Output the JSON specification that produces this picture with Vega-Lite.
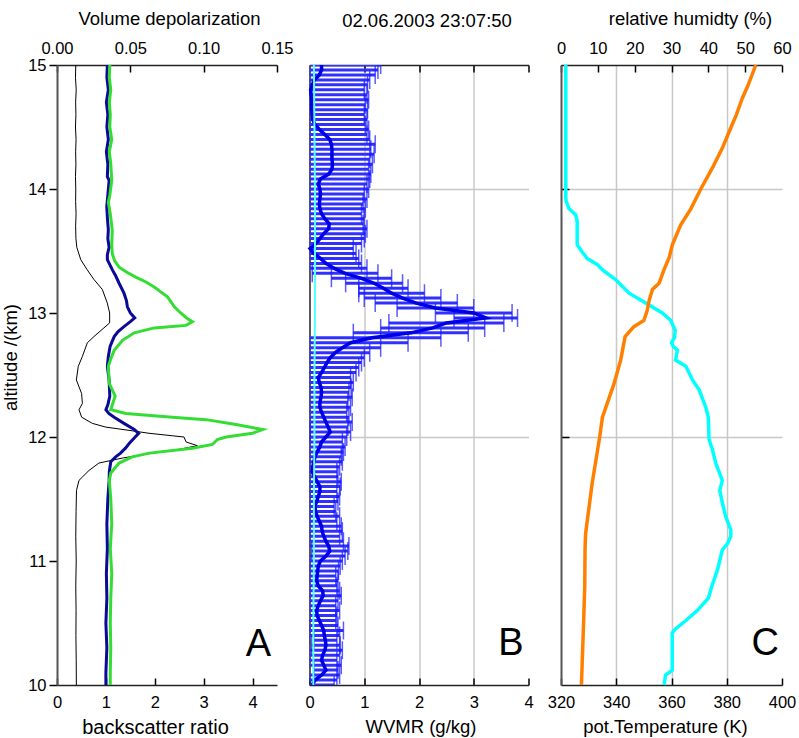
{
"$schema": "https://vega.github.io/schema/vega-lite/v6.json",
"background": "white",
"padding": {"left": 1, "top": 9, "right": 5, "bottom": 3},
"spacing": 32.5,
"bounds": "flush",
"resolve": {"scale": {"x": "independent", "y": "independent"}},
"config": {
  "font": "Liberation Sans",
  "view": {"stroke": null},
  "axis": {"labelFont": "Liberation Sans", "labelFontSize": 16.5, "labelColor": "#000000", "labelFlush": false, "titleFont": "Liberation Sans", "titleFontSize": 18.5, "titleFontWeight": "normal", "titleColor": "#000000", "domainColor": "#222222", "domainWidth": 1.5, "tickColor": "#000000", "tickWidth": 1.5, "grid": false, "gridColor": "#c8c8c8", "gridWidth": 1.5},
  "title": {"font": "Liberation Sans", "fontSize": 18.5, "fontWeight": "normal", "color": "#000000"}
},
"datasets": {
  "depol": [
    {"a": 15.0, "d": 0.0128}, {"a": 14.9, "d": 0.0126}, {"a": 14.8, "d": 0.0131}, {"a": 14.7, "d": 0.0127}, {"a": 14.6, "d": 0.0129}, {"a": 14.5, "d": 0.0126}, {"a": 14.4, "d": 0.0130}, {"a": 14.3, "d": 0.0127}, {"a": 14.2, "d": 0.0129}, {"a": 14.1, "d": 0.0126}, {"a": 14.0, "d": 0.0128}, {"a": 13.9, "d": 0.0127}, {"a": 13.8, "d": 0.0130}, {"a": 13.7, "d": 0.0127}, {"a": 13.6, "d": 0.0129}, {"a": 13.53, "d": 0.0135}, {"a": 13.43, "d": 0.0162}, {"a": 13.35, "d": 0.0205}, {"a": 13.27, "d": 0.0252}, {"a": 13.19, "d": 0.0309}, {"a": 13.08, "d": 0.0343}, {"a": 13.0, "d": 0.0359}, {"a": 12.92, "d": 0.0359}, {"a": 12.88, "d": 0.0320}, {"a": 12.81, "d": 0.0252}, {"a": 12.76, "d": 0.0207}, {"a": 12.65, "d": 0.0173}, {"a": 12.57, "d": 0.0145}, {"a": 12.46, "d": 0.0132}, {"a": 12.35, "d": 0.0168}, {"a": 12.27, "d": 0.0173}, {"a": 12.22, "d": 0.0150}, {"a": 12.16, "d": 0.0168}, {"a": 12.11, "d": 0.0241}, {"a": 12.08, "d": 0.0332}, {"a": 12.05, "d": 0.0513}, {"a": 12.03, "d": 0.0627}, {"a": 12.01, "d": 0.0786}, {"a": 12.0, "d": 0.0866}, {"a": 11.96, "d": 0.0880}, {"a": 11.93, "d": 0.0957}, {"a": 11.9, "d": 0.0832}, {"a": 11.87, "d": 0.0650}, {"a": 11.83, "d": 0.0445}, {"a": 11.79, "d": 0.0286}, {"a": 11.73, "d": 0.0218}, {"a": 11.65, "d": 0.0150}, {"a": 11.57, "d": 0.0133}, {"a": 11.4, "d": 0.0130}, {"a": 11.2, "d": 0.0128}, {"a": 11.0, "d": 0.0131}, {"a": 10.8, "d": 0.0128}, {"a": 10.6, "d": 0.0130}, {"a": 10.4, "d": 0.0129}, {"a": 10.2, "d": 0.0131}, {"a": 10.0, "d": 0.0132}
  ],
  "blue": [
    {"a": 15.0, "v": 1.03}, {"a": 14.9, "v": 1.02}, {"a": 14.8, "v": 1.05}, {"a": 14.7, "v": 1.01}, {"a": 14.6, "v": 1.04}, {"a": 14.5, "v": 1.02}, {"a": 14.4, "v": 1.05}, {"a": 14.3, "v": 1.01}, {"a": 14.2, "v": 1.04}, {"a": 14.1, "v": 1.03}, {"a": 14.07, "v": 1.066}, {"a": 13.95, "v": 1.04}, {"a": 13.86, "v": 1.018}, {"a": 13.77, "v": 1.03}, {"a": 13.67, "v": 1.05}, {"a": 13.6, "v": 1.04}, {"a": 13.53, "v": 1.066}, {"a": 13.47, "v": 1.03}, {"a": 13.43, "v": 1.03}, {"a": 13.39, "v": 1.08}, {"a": 13.35, "v": 1.13}, {"a": 13.3, "v": 1.2}, {"a": 13.24, "v": 1.27}, {"a": 13.16, "v": 1.37}, {"a": 13.1, "v": 1.42}, {"a": 13.05, "v": 1.44}, {"a": 13.0, "v": 1.5}, {"a": 12.96, "v": 1.59}, {"a": 12.93, "v": 1.5}, {"a": 12.89, "v": 1.37}, {"a": 12.85, "v": 1.25}, {"a": 12.81, "v": 1.17}, {"a": 12.73, "v": 1.086}, {"a": 12.65, "v": 1.05}, {"a": 12.57, "v": 1.03}, {"a": 12.46, "v": 1.066}, {"a": 12.33, "v": 1.08}, {"a": 12.26, "v": 1.04}, {"a": 12.22, "v": 1.0}, {"a": 12.19, "v": 1.06}, {"a": 12.16, "v": 1.17}, {"a": 12.11, "v": 1.37}, {"a": 12.06, "v": 1.58}, {"a": 12.03, "v": 1.67}, {"a": 12.0, "v": 1.6}, {"a": 11.95, "v": 1.48}, {"a": 11.91, "v": 1.4}, {"a": 11.87, "v": 1.3}, {"a": 11.84, "v": 1.2}, {"a": 11.8, "v": 1.1}, {"a": 11.72, "v": 1.07}, {"a": 11.65, "v": 1.066}, {"a": 11.5, "v": 1.04}, {"a": 11.3, "v": 1.02}, {"a": 11.1, "v": 1.03}, {"a": 10.9, "v": 1.01}, {"a": 10.7, "v": 1.02}, {"a": 10.5, "v": 1.0}, {"a": 10.3, "v": 1.02}, {"a": 10.1, "v": 1.0}, {"a": 10.0, "v": 1.0}
  ],
  "green": [
    {"a": 15.0, "v": 1.08}, {"a": 14.9, "v": 1.07}, {"a": 14.8, "v": 1.1}, {"a": 14.7, "v": 1.07}, {"a": 14.6, "v": 1.09}, {"a": 14.5, "v": 1.08}, {"a": 14.4, "v": 1.12}, {"a": 14.3, "v": 1.07}, {"a": 14.2, "v": 1.1}, {"a": 14.07, "v": 1.12}, {"a": 13.95, "v": 1.08}, {"a": 13.89, "v": 1.05}, {"a": 13.8, "v": 1.09}, {"a": 13.67, "v": 1.13}, {"a": 13.55, "v": 1.12}, {"a": 13.48, "v": 1.13}, {"a": 13.42, "v": 1.18}, {"a": 13.37, "v": 1.27}, {"a": 13.33, "v": 1.42}, {"a": 13.29, "v": 1.61}, {"a": 13.25, "v": 1.82}, {"a": 13.21, "v": 1.99}, {"a": 13.17, "v": 2.12}, {"a": 13.13, "v": 2.26}, {"a": 13.09, "v": 2.33}, {"a": 13.05, "v": 2.4}, {"a": 13.0, "v": 2.53}, {"a": 12.96, "v": 2.65}, {"a": 12.93, "v": 2.77}, {"a": 12.9, "v": 2.64}, {"a": 12.88, "v": 1.99}, {"a": 12.84, "v": 1.58}, {"a": 12.78, "v": 1.34}, {"a": 12.7, "v": 1.17}, {"a": 12.63, "v": 1.1}, {"a": 12.57, "v": 1.05}, {"a": 12.43, "v": 1.07}, {"a": 12.33, "v": 1.19}, {"a": 12.27, "v": 1.14}, {"a": 12.22, "v": 1.1}, {"a": 12.19, "v": 1.41}, {"a": 12.16, "v": 2.36}, {"a": 12.14, "v": 3.05}, {"a": 12.1, "v": 3.66}, {"a": 12.06, "v": 4.21}, {"a": 12.03, "v": 4.0}, {"a": 12.0, "v": 3.46}, {"a": 11.98, "v": 3.28}, {"a": 11.94, "v": 3.18}, {"a": 11.91, "v": 2.77}, {"a": 11.87, "v": 1.89}, {"a": 11.84, "v": 1.54}, {"a": 11.79, "v": 1.27}, {"a": 11.71, "v": 1.1}, {"a": 11.65, "v": 1.07}, {"a": 11.5, "v": 1.1}, {"a": 11.3, "v": 1.12}, {"a": 11.1, "v": 1.09}, {"a": 10.9, "v": 1.12}, {"a": 10.7, "v": 1.1}, {"a": 10.5, "v": 1.09}, {"a": 10.3, "v": 1.1}, {"a": 10.1, "v": 1.09}, {"a": 10.0, "v": 1.09}
  ],
  "wv": [
    {"a": 10.00, "w": 0.05, "lo": -0.35, "hi": 0.45}, {"a": 10.04, "w": 0.10, "lo": -0.30, "hi": 0.50}, {"a": 10.08, "w": 0.22, "lo": -0.11, "hi": 0.55}, {"a": 10.12, "w": 0.30, "lo": 0.08, "hi": 0.52}, {"a": 10.16, "w": 0.26, "lo": -0.06, "hi": 0.58}, {"a": 10.20, "w": 0.22, "lo": -0.06, "hi": 0.50}, {"a": 10.24, "w": 0.24, "lo": -0.07, "hi": 0.55}, {"a": 10.28, "w": 0.28, "lo": -0.04, "hi": 0.60}, {"a": 10.32, "w": 0.30, "lo": 0.04, "hi": 0.56}, {"a": 10.36, "w": 0.29, "lo": 0.08, "hi": 0.50}, {"a": 10.40, "w": 0.27, "lo": -0.01, "hi": 0.55}, {"a": 10.44, "w": 0.26, "lo": -0.10, "hi": 0.62}, {"a": 10.48, "w": 0.22, "lo": -0.08, "hi": 0.52}, {"a": 10.52, "w": 0.18, "lo": -0.12, "hi": 0.48}, {"a": 10.56, "w": 0.14, "lo": -0.22, "hi": 0.50}, {"a": 10.60, "w": 0.13, "lo": -0.29, "hi": 0.55}, {"a": 10.64, "w": 0.16, "lo": -0.16, "hi": 0.48}, {"a": 10.68, "w": 0.20, "lo": -0.12, "hi": 0.52}, {"a": 10.72, "w": 0.25, "lo": -0.08, "hi": 0.58}, {"a": 10.76, "w": 0.24, "lo": -0.07, "hi": 0.55}, {"a": 10.80, "w": 0.16, "lo": -0.18, "hi": 0.50}, {"a": 10.84, "w": 0.13, "lo": -0.26, "hi": 0.52}, {"a": 10.88, "w": 0.14, "lo": -0.20, "hi": 0.48}, {"a": 10.92, "w": 0.15, "lo": -0.23, "hi": 0.53}, {"a": 10.96, "w": 0.16, "lo": -0.24, "hi": 0.56}, {"a": 11.00, "w": 0.20, "lo": -0.20, "hi": 0.60}, {"a": 11.04, "w": 0.30, "lo": -0.05, "hi": 0.65}, {"a": 11.08, "w": 0.37, "lo": 0.04, "hi": 0.70}, {"a": 11.12, "w": 0.35, "lo": -0.02, "hi": 0.72}, {"a": 11.16, "w": 0.30, "lo": -0.02, "hi": 0.62}, {"a": 11.20, "w": 0.26, "lo": -0.03, "hi": 0.55}, {"a": 11.24, "w": 0.23, "lo": -0.14, "hi": 0.60}, {"a": 11.28, "w": 0.22, "lo": -0.14, "hi": 0.58}, {"a": 11.32, "w": 0.18, "lo": -0.14, "hi": 0.50}, {"a": 11.36, "w": 0.14, "lo": -0.27, "hi": 0.55}, {"a": 11.40, "w": 0.11, "lo": -0.26, "hi": 0.48}, {"a": 11.44, "w": 0.10, "lo": -0.25, "hi": 0.45}, {"a": 11.48, "w": 0.13, "lo": -0.26, "hi": 0.52}, {"a": 11.52, "w": 0.16, "lo": -0.23, "hi": 0.55}, {"a": 11.56, "w": 0.19, "lo": -0.12, "hi": 0.50}, {"a": 11.60, "w": 0.19, "lo": -0.18, "hi": 0.56}, {"a": 11.64, "w": 0.14, "lo": -0.30, "hi": 0.58}, {"a": 11.68, "w": 0.09, "lo": -0.34, "hi": 0.52}, {"a": 11.72, "w": 0.05, "lo": -0.40, "hi": 0.50}, {"a": 11.76, "w": 0.06, "lo": -0.43, "hi": 0.55}, {"a": 11.80, "w": 0.08, "lo": -0.44, "hi": 0.60}, {"a": 11.84, "w": 0.10, "lo": -0.38, "hi": 0.58}, {"a": 11.88, "w": 0.14, "lo": -0.34, "hi": 0.62}, {"a": 11.92, "w": 0.19, "lo": -0.27, "hi": 0.65}, {"a": 11.96, "w": 0.22, "lo": -0.16, "hi": 0.60}, {"a": 12.00, "w": 0.30, "lo": -0.08, "hi": 0.68}, {"a": 12.04, "w": 0.38, "lo": 0.01, "hi": 0.75}, {"a": 12.08, "w": 0.34, "lo": -0.02, "hi": 0.70}, {"a": 12.12, "w": 0.30, "lo": -0.18, "hi": 0.78}, {"a": 12.16, "w": 0.26, "lo": -0.20, "hi": 0.72}, {"a": 12.20, "w": 0.22, "lo": -0.24, "hi": 0.68}, {"a": 12.24, "w": 0.19, "lo": -0.37, "hi": 0.75}, {"a": 12.28, "w": 0.19, "lo": -0.32, "hi": 0.70}, {"a": 12.32, "w": 0.21, "lo": -0.36, "hi": 0.78}, {"a": 12.36, "w": 0.22, "lo": -0.28, "hi": 0.72}, {"a": 12.40, "w": 0.21, "lo": -0.34, "hi": 0.76}, {"a": 12.44, "w": 0.18, "lo": -0.44, "hi": 0.80}, {"a": 12.48, "w": 0.16, "lo": -0.43, "hi": 0.75}, {"a": 12.52, "w": 0.22, "lo": -0.41, "hi": 0.85}, {"a": 12.56, "w": 0.27, "lo": -0.36, "hi": 0.90}, {"a": 12.60, "w": 0.32, "lo": -0.31, "hi": 0.95}, {"a": 12.64, "w": 0.38, "lo": -0.24, "hi": 1.00}, {"a": 12.68, "w": 0.47, "lo": -0.16, "hi": 1.10}, {"a": 12.72, "w": 0.60, "lo": -0.10, "hi": 1.30}, {"a": 12.76, "w": 0.75, "lo": -0.30, "hi": 1.80}, {"a": 12.80, "w": 1.14, "lo": -0.12, "hi": 2.40}, {"a": 12.84, "w": 1.85, "lo": 0.80, "hi": 2.90}, {"a": 12.88, "w": 2.25, "lo": 1.30, "hi": 3.20}, {"a": 12.92, "w": 2.50, "lo": 1.45, "hi": 3.55}, {"a": 12.96, "w": 3.22, "lo": 2.64, "hi": 3.80}, {"a": 13.00, "w": 3.00, "lo": 2.30, "hi": 3.70}, {"a": 13.04, "w": 2.30, "lo": 1.60, "hi": 3.00}, {"a": 13.08, "w": 1.95, "lo": 1.20, "hi": 2.70}, {"a": 13.12, "w": 1.70, "lo": 1.00, "hi": 2.40}, {"a": 13.16, "w": 1.50, "lo": 0.90, "hi": 2.10}, {"a": 13.20, "w": 1.35, "lo": 0.90, "hi": 1.80}, {"a": 13.24, "w": 1.18, "lo": 0.66, "hi": 1.70}, {"a": 13.28, "w": 0.95, "lo": 0.40, "hi": 1.50}, {"a": 13.32, "w": 0.65, "lo": 0.05, "hi": 1.25}, {"a": 13.36, "w": 0.45, "lo": -0.15, "hi": 1.05}, {"a": 13.40, "w": 0.30, "lo": -0.35, "hi": 0.95}, {"a": 13.44, "w": 0.20, "lo": -0.50, "hi": 0.90}, {"a": 13.48, "w": 0.08, "lo": -0.69, "hi": 0.85}, {"a": 13.52, "w": 0.01, "lo": -0.78, "hi": 0.80}, {"a": 13.56, "w": 0.12, "lo": -0.71, "hi": 0.95}, {"a": 13.60, "w": 0.19, "lo": -0.62, "hi": 1.00}, {"a": 13.64, "w": 0.26, "lo": -0.50, "hi": 1.02}, {"a": 13.68, "w": 0.35, "lo": -0.35, "hi": 1.05}, {"a": 13.72, "w": 0.36, "lo": -0.26, "hi": 0.98}, {"a": 13.76, "w": 0.28, "lo": -0.44, "hi": 1.00}, {"a": 13.80, "w": 0.22, "lo": -0.51, "hi": 0.95}, {"a": 13.84, "w": 0.19, "lo": -0.64, "hi": 1.02}, {"a": 13.88, "w": 0.18, "lo": -0.62, "hi": 0.98}, {"a": 13.92, "w": 0.19, "lo": -0.67, "hi": 1.05}, {"a": 13.96, "w": 0.20, "lo": -0.60, "hi": 1.00}, {"a": 14.00, "w": 0.19, "lo": -0.70, "hi": 1.08}, {"a": 14.04, "w": 0.16, "lo": -0.73, "hi": 1.05}, {"a": 14.08, "w": 0.20, "lo": -0.70, "hi": 1.10}, {"a": 14.12, "w": 0.35, "lo": -0.42, "hi": 1.12}, {"a": 14.16, "w": 0.41, "lo": -0.26, "hi": 1.08}, {"a": 14.20, "w": 0.42, "lo": -0.31, "hi": 1.15}, {"a": 14.24, "w": 0.41, "lo": -0.28, "hi": 1.10}, {"a": 14.28, "w": 0.41, "lo": -0.36, "hi": 1.18}, {"a": 14.32, "w": 0.41, "lo": -0.30, "hi": 1.12}, {"a": 14.36, "w": 0.40, "lo": -0.40, "hi": 1.20}, {"a": 14.40, "w": 0.37, "lo": -0.36, "hi": 1.10}, {"a": 14.44, "w": 0.28, "lo": -0.49, "hi": 1.05}, {"a": 14.48, "w": 0.18, "lo": -0.72, "hi": 1.08}, {"a": 14.52, "w": 0.10, "lo": -0.82, "hi": 1.02}, {"a": 14.56, "w": 0.06, "lo": -0.93, "hi": 1.05}, {"a": 14.60, "w": 0.05, "lo": -0.90, "hi": 1.00}, {"a": 14.64, "w": 0.04, "lo": -0.98, "hi": 1.06}, {"a": 14.68, "w": 0.04, "lo": -0.94, "hi": 1.02}, {"a": 14.72, "w": 0.04, "lo": -1.00, "hi": 1.08}, {"a": 14.76, "w": 0.03, "lo": -0.99, "hi": 1.05}, {"a": 14.80, "w": 0.02, "lo": -0.96, "hi": 1.00}, {"a": 14.84, "w": 0.05, "lo": -0.96, "hi": 1.06}, {"a": 14.88, "w": 0.09, "lo": -0.92, "hi": 1.10}, {"a": 14.92, "w": 0.18, "lo": -0.84, "hi": 1.20}, {"a": 14.96, "w": 0.22, "lo": -0.81, "hi": 1.25}, {"a": 15.00, "w": 0.22, "lo": -0.86, "hi": 1.30}
  ],
  "cyb": [
    {"a": 15.0, "c": 0.08}, {"a": 14.5, "c": 0.09}, {"a": 14.0, "c": 0.10}, {"a": 13.5, "c": 0.10}, {"a": 13.0, "c": 0.10}, {"a": 12.5, "c": 0.09}, {"a": 12.0, "c": 0.09}, {"a": 11.5, "c": 0.08}, {"a": 11.0, "c": 0.08}, {"a": 10.5, "c": 0.07}, {"a": 10.0, "c": 0.07}
  ],
  "temp": [
    {"a": 15.0, "t": 390.5}, {"a": 14.83, "t": 387.6}, {"a": 14.73, "t": 385.6}, {"a": 14.6, "t": 383.5}, {"a": 14.49, "t": 381.4}, {"a": 14.33, "t": 378.4}, {"a": 14.17, "t": 374.8}, {"a": 14.0, "t": 370.6}, {"a": 13.84, "t": 367.0}, {"a": 13.71, "t": 363.3}, {"a": 13.55, "t": 360.3}, {"a": 13.45, "t": 359.2}, {"a": 13.35, "t": 357.3}, {"a": 13.24, "t": 355.5}, {"a": 13.19, "t": 353.1}, {"a": 13.1, "t": 351.9}, {"a": 13.02, "t": 351.2}, {"a": 12.94, "t": 350.0}, {"a": 12.89, "t": 346.4}, {"a": 12.81, "t": 343.2}, {"a": 12.62, "t": 341.6}, {"a": 12.43, "t": 339.2}, {"a": 12.16, "t": 335.0}, {"a": 12.0, "t": 334.0}, {"a": 11.63, "t": 331.3}, {"a": 11.22, "t": 328.9}, {"a": 11.09, "t": 328.7}, {"a": 10.8, "t": 328.6}, {"a": 10.52, "t": 328.2}, {"a": 10.0, "t": 327.4}
  ],
  "rh": [
    {"a": 15.0, "r": 1.3}, {"a": 14.5, "r": 1.3}, {"a": 14.0, "r": 1.3}, {"a": 13.93, "r": 1.3}, {"a": 13.9, "r": 1.4}, {"a": 13.84, "r": 2.2}, {"a": 13.79, "r": 4.0}, {"a": 13.74, "r": 4.4}, {"a": 13.55, "r": 4.4}, {"a": 13.49, "r": 5.8}, {"a": 13.44, "r": 7.1}, {"a": 13.39, "r": 9.9}, {"a": 13.35, "r": 11.2}, {"a": 13.27, "r": 14.8}, {"a": 13.16, "r": 18.5}, {"a": 13.08, "r": 23.0}, {"a": 13.0, "r": 27.5}, {"a": 12.94, "r": 29.8}, {"a": 12.86, "r": 31.0}, {"a": 12.8, "r": 30.8}, {"a": 12.76, "r": 30.0}, {"a": 12.73, "r": 30.5}, {"a": 12.7, "r": 31.6}, {"a": 12.62, "r": 31.1}, {"a": 12.57, "r": 33.9}, {"a": 12.46, "r": 35.7}, {"a": 12.38, "r": 37.5}, {"a": 12.24, "r": 39.3}, {"a": 12.16, "r": 40.0}, {"a": 11.98, "r": 40.2}, {"a": 11.9, "r": 41.1}, {"a": 11.79, "r": 42.0}, {"a": 11.65, "r": 43.8}, {"a": 11.57, "r": 43.1}, {"a": 11.47, "r": 43.8}, {"a": 11.36, "r": 44.7}, {"a": 11.25, "r": 46.1}, {"a": 11.2, "r": 46.1}, {"a": 11.14, "r": 45.2}, {"a": 11.09, "r": 43.8}, {"a": 10.93, "r": 42.5}, {"a": 10.8, "r": 41.0}, {"a": 10.7, "r": 40.0}, {"a": 10.6, "r": 37.0}, {"a": 10.52, "r": 33.9}, {"a": 10.45, "r": 31.0}, {"a": 10.42, "r": 30.2}, {"a": 10.12, "r": 30.2}, {"a": 10.08, "r": 28.4}, {"a": 10.0, "r": 28.0}
  ]
},
"hconcat": [
  {
    "width": 220, "height": 620,
    "layer": [
      {
        "data": {"name": "depol"},
        "mark": {"type": "line", "color": "#000000", "strokeWidth": 1},
        "encoding": {
          "x": {"field": "d", "type": "quantitative", "scale": {"domain": [0, 0.15], "nice": false, "zero": false}, "axis": {"orient": "top", "values": [0, 0.05, 0.1, 0.15], "format": ".2f", "title": "Volume depolarization", "tickSize": -7, "labelPadding": 16, "titlePadding": 12, "titleX": 112}},
          "y": {"field": "a", "type": "quantitative", "scale": {"domain": [10, 15], "nice": false, "zero": false}, "axis": {"values": [10, 11, 12, 13, 14, 15], "title": "altitude /(km)", "tickSize": 8, "labelPadding": 3, "titlePadding": 7, "titleY": 292, "domainColor": "#555555", "domainWidth": 2}},
          "order": {"field": "a", "type": "quantitative"}
        }
      },
      {
        "layer": [
          {
            "data": {"name": "blue"},
            "mark": {"type": "line", "color": "#0a0a96", "strokeWidth": 3},
            "encoding": {
              "x": {"field": "v", "type": "quantitative", "scale": {"domain": [0, 4.5], "nice": false, "zero": false}, "axis": {"orient": "bottom", "values": [0, 1, 2, 3, 4], "title": "backscatter ratio", "titleFontSize": 20, "tickSize": -7, "labelPadding": 16, "titlePadding": 7, "titleX": 98}},
              "y": {"field": "a", "type": "quantitative", "scale": {"domain": [10, 15], "nice": false, "zero": false}, "axis": {"values": [10, 11, 12, 13, 14, 15], "title": "altitude /(km)", "tickSize": 8, "labelPadding": 3, "titlePadding": 7, "titleY": 292, "domainColor": "#555555", "domainWidth": 2}},
              "order": {"field": "a", "type": "quantitative"}
            }
          },
          {
            "data": {"name": "green"},
            "mark": {"type": "line", "color": "#33dd33", "strokeWidth": 3},
            "encoding": {
              "x": {"field": "v", "type": "quantitative", "scale": {"domain": [0, 4.5], "nice": false, "zero": false}, "axis": {"orient": "bottom", "values": [0, 1, 2, 3, 4], "title": "backscatter ratio", "titleFontSize": 20, "tickSize": -7, "labelPadding": 16, "titlePadding": 7, "titleX": 98}},
              "y": {"field": "a", "type": "quantitative", "scale": {"domain": [10, 15], "nice": false, "zero": false}, "axis": {"values": [10, 11, 12, 13, 14, 15], "title": "altitude /(km)", "tickSize": 8, "labelPadding": 3, "titlePadding": 7, "titleY": 292, "domainColor": "#555555", "domainWidth": 2}},
              "order": {"field": "a", "type": "quantitative"}
            }
          },
          {
            "data": {"values": [{"lab": "A"}]},
            "mark": {"type": "text", "fontSize": 38, "align": "right", "baseline": "alphabetic", "color": "#000000"},
            "encoding": {
              "x": {"datum": 4.38, "type": "quantitative", "scale": {"domain": [0, 4.5], "nice": false, "zero": false}, "axis": {"orient": "bottom", "values": [0, 1, 2, 3, 4], "title": "backscatter ratio", "titleFontSize": 20, "tickSize": -7, "labelPadding": 16, "titlePadding": 7, "titleX": 98}},
              "y": {"datum": 10.23, "type": "quantitative", "scale": {"domain": [10, 15], "nice": false, "zero": false}, "axis": {"values": [10, 11, 12, 13, 14, 15], "title": "altitude /(km)", "tickSize": 8, "labelPadding": 3, "titlePadding": 7, "titleY": 292, "domainColor": "#555555", "domainWidth": 2}},
              "text": {"field": "lab"}
            }
          }
        ]
      }
    ],
    "resolve": {"scale": {"x": "independent"}}
  },
  {
    "width": 219, "height": 620,
    "title": {"text": "02.06.2003 23:07:50", "offset": 28, "dx": 8, "anchor": "middle", "font": "Liberation Sans", "fontSize": 18.5, "fontWeight": "normal", "color": "#000000"},
    "layer": [
      {
        "layer": [
          {
            "data": {"name": "wv"},
            "mark": {"type": "rule", "color": "#3030ff", "strokeWidth": 3, "clip": true},
            "encoding": {
              "x": {"field": "lo", "type": "quantitative", "scale": {"domain": [0, 4], "nice": false, "zero": false}, "axis": {"orient": "bottom", "values": [0, 1, 2, 3, 4], "title": "WVMR (g/kg)", "tickSize": -7, "labelPadding": 16, "titlePadding": 7, "titleX": 111, "grid": true, "gridOpacity": {"condition": {"test": "datum.value === 0 || datum.value === 4", "value": 0}, "value": 1}}},
              "x2": {"field": "hi"},
              "y": {"field": "a", "type": "quantitative", "scale": {"domain": [10, 15], "nice": false, "zero": false}, "axis": {"values": [12, 14], "labels": false, "title": null, "tickSize": -8, "grid": true}}
            }
          },
          {
            "data": {"name": "wv"},
            "mark": {"type": "tick", "orient": "vertical", "color": "#1515ff", "thickness": 1.5, "size": 18, "clip": true},
            "encoding": {
              "x": {"field": "hi", "type": "quantitative", "scale": {"domain": [0, 4], "nice": false, "zero": false}, "axis": {"orient": "bottom", "values": [0, 1, 2, 3, 4], "title": "WVMR (g/kg)", "tickSize": -7, "labelPadding": 16, "titlePadding": 7, "titleX": 111, "grid": true, "gridOpacity": {"condition": {"test": "datum.value === 0 || datum.value === 4", "value": 0}, "value": 1}}},
              "y": {"field": "a", "type": "quantitative", "scale": {"domain": [10, 15], "nice": false, "zero": false}, "axis": {"values": [12, 14], "labels": false, "title": null, "tickSize": -8, "grid": true}}
            }
          },
          {
            "data": {"name": "wv"},
            "mark": {"type": "tick", "orient": "vertical", "color": "#1515ff", "thickness": 1.5, "size": 18, "clip": true},
            "encoding": {
              "x": {"field": "lo", "type": "quantitative", "scale": {"domain": [0, 4], "nice": false, "zero": false}, "axis": {"orient": "bottom", "values": [0, 1, 2, 3, 4], "title": "WVMR (g/kg)", "tickSize": -7, "labelPadding": 16, "titlePadding": 7, "titleX": 111, "grid": true, "gridOpacity": {"condition": {"test": "datum.value === 0 || datum.value === 4", "value": 0}, "value": 1}}},
              "y": {"field": "a", "type": "quantitative", "scale": {"domain": [10, 15], "nice": false, "zero": false}, "axis": {"values": [12, 14], "labels": false, "title": null, "tickSize": -8, "grid": true}}
            }
          },
          {
            "data": {"name": "wv"},
            "mark": {"type": "line", "color": "#0000e6", "strokeWidth": 3.5},
            "encoding": {
              "x": {"field": "w", "type": "quantitative", "scale": {"domain": [0, 4], "nice": false, "zero": false}, "axis": {"orient": "bottom", "values": [0, 1, 2, 3, 4], "title": "WVMR (g/kg)", "tickSize": -7, "labelPadding": 16, "titlePadding": 7, "titleX": 111, "grid": true, "gridOpacity": {"condition": {"test": "datum.value === 0 || datum.value === 4", "value": 0}, "value": 1}}},
              "y": {"field": "a", "type": "quantitative", "scale": {"domain": [10, 15], "nice": false, "zero": false}, "axis": {"values": [12, 14], "labels": false, "title": null, "tickSize": -8, "grid": true}},
              "order": {"field": "a", "type": "quantitative"}
            }
          },
          {
            "data": {"values": [{"lab": "B"}]},
            "mark": {"type": "text", "fontSize": 38, "align": "right", "baseline": "alphabetic", "color": "#000000"},
            "encoding": {
              "x": {"datum": 3.91, "type": "quantitative", "scale": {"domain": [0, 4], "nice": false, "zero": false}, "axis": {"orient": "bottom", "values": [0, 1, 2, 3, 4], "title": "WVMR (g/kg)", "tickSize": -7, "labelPadding": 16, "titlePadding": 7, "titleX": 111, "grid": true, "gridOpacity": {"condition": {"test": "datum.value === 0 || datum.value === 4", "value": 0}, "value": 1}}},
              "y": {"datum": 10.24, "type": "quantitative", "scale": {"domain": [10, 15], "nice": false, "zero": false}, "axis": {"values": [12, 14], "labels": false, "title": null, "tickSize": -8, "grid": true}},
              "text": {"field": "lab"}
            }
          }
        ]
      },
      {
        "data": {"name": "cyb"},
        "mark": {"type": "line", "color": "#55ffff", "strokeWidth": 2},
        "encoding": {
          "x": {"field": "c", "type": "quantitative", "scale": {"domain": [0, 4], "nice": false, "zero": false}, "axis": {"orient": "top", "values": [1, 2, 3, 4], "labels": false, "title": null, "tickSize": -7}},
          "y": {"field": "a", "type": "quantitative", "scale": {"domain": [10, 15], "nice": false, "zero": false}, "axis": {"values": [12, 14], "labels": false, "title": null, "tickSize": -8, "grid": true}},
          "order": {"field": "a", "type": "quantitative"}
        }
      }
    ],
    "resolve": {"scale": {"x": "independent"}}
  },
  {
    "width": 221, "height": 620,
    "layer": [
      {
        "data": {"name": "rh"},
        "mark": {"type": "line", "color": "#00ffff", "strokeWidth": 3.5},
        "encoding": {
          "x": {"field": "r", "type": "quantitative", "scale": {"domain": [0, 60], "nice": false, "zero": false}, "axis": {"orient": "top", "values": [0, 10, 20, 30, 40, 50, 60], "title": "relative humidty (%)", "tickSize": -7, "labelPadding": 16, "titlePadding": 12, "titleX": 129}},
          "y": {"field": "a", "type": "quantitative", "scale": {"domain": [10, 15], "nice": false, "zero": false}, "axis": {"values": [12, 14], "labels": false, "title": null, "tickSize": -8, "grid": true, "domainColor": "#555555", "domainWidth": 2}},
          "order": {"field": "a", "type": "quantitative"}
        }
      },
      {
        "layer": [
          {
            "data": {"name": "temp"},
            "mark": {"type": "line", "color": "#ff7f00", "strokeWidth": 3.5},
            "encoding": {
              "x": {"field": "t", "type": "quantitative", "scale": {"domain": [320, 400], "nice": false, "zero": false}, "axis": {"orient": "bottom", "values": [320, 340, 360, 380, 400], "title": "pot.Temperature (K)", "tickSize": -7, "labelPadding": 16, "titlePadding": 7, "titleX": 104, "grid": true, "gridOpacity": {"condition": {"test": "datum.value === 320 || datum.value === 400", "value": 0}, "value": 1}}},
              "y": {"field": "a", "type": "quantitative", "scale": {"domain": [10, 15], "nice": false, "zero": false}, "axis": {"values": [12, 14], "labels": false, "title": null, "tickSize": -8, "grid": true, "domainColor": "#555555", "domainWidth": 2}},
              "order": {"field": "a", "type": "quantitative"}
            }
          },
          {
            "data": {"values": [{"lab": "C"}]},
            "mark": {"type": "text", "fontSize": 38, "align": "right", "baseline": "alphabetic", "color": "#000000"},
            "encoding": {
              "x": {"datum": 398.9, "type": "quantitative", "scale": {"domain": [320, 400], "nice": false, "zero": false}, "axis": {"orient": "bottom", "values": [320, 340, 360, 380, 400], "title": "pot.Temperature (K)", "tickSize": -7, "labelPadding": 16, "titlePadding": 7, "titleX": 104, "grid": true, "gridOpacity": {"condition": {"test": "datum.value === 320 || datum.value === 400", "value": 0}, "value": 1}}},
              "y": {"datum": 10.24, "type": "quantitative", "scale": {"domain": [10, 15], "nice": false, "zero": false}, "axis": {"values": [12, 14], "labels": false, "title": null, "tickSize": -8, "grid": true, "domainColor": "#555555", "domainWidth": 2}},
              "text": {"field": "lab"}
            }
          }
        ]
      }
    ],
    "resolve": {"scale": {"x": "independent"}}
  }
]
}
